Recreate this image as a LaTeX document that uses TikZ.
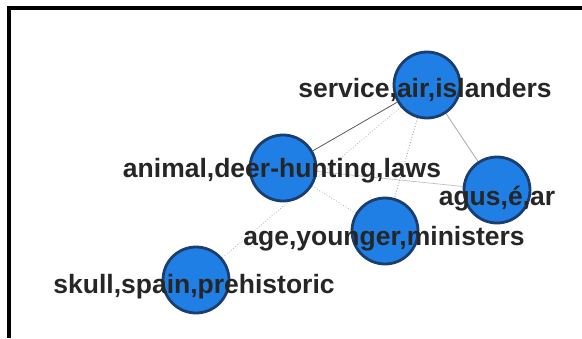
\documentclass[tikz,border=0pt]{standalone}
\usepackage{fontspec}
\setmainfont{Liberation Sans}
\usetikzlibrary{backgrounds}
\definecolor{nodeblue}{RGB}{31,127,228}
\definecolor{nodeedge}{RGB}{26,62,112}

\begin{document}
\begin{tikzpicture}[x=1pt, y=-1pt,
  topic/.style = {circle, minimum size=66pt, inner sep=0pt, line width=2.8pt, draw=nodeedge, fill=nodeblue},
  lbl/.style = {anchor=base, inner sep=0pt, text=black!85, font=\fontsize{26.5}{30}\selectfont\bfseries},
  link/.style = {line width=0.8pt, draw=black!65},
  faint/.style = {line width=0.7pt, draw=black!35},
  dots/.style = {line width=0.8pt, draw=black!45, dotted}]
\useasboundingbox (0,0) rectangle (582,338);
\draw[line width=4pt] (9,338) -- (9,8) -- (582,8);
% nodes
\node[topic] (service) at (427,85) {};
\node[topic] (animal) at (283,168) {};
\node[topic] (agus) at (497,190) {};
\node[topic] (age) at (385,231) {};
\node[topic] (skull) at (196,280) {};
% edges
\begin{scope}[on background layer]
\draw[link] (service) -- (animal);
\draw[faint] (service) -- (agus);
\draw[dots] (service) -- (age);
\draw[dots, draw=black!30] (service) -- (skull);
\draw[faint, draw=black!25] (animal) -- (agus);
\draw[dots, draw=black!30] (animal) -- (age);
\end{scope}
% labels
\node[lbl] (service-lbl) at (425,97.5) {service,air,islanders};
\node[lbl] (animal-lbl) at (282,177) {animal,deer-hunting,laws};
\node[lbl] (agus-lbl) at (497,205) {agus,é,ar};
\node[lbl] (age-lbl) at (384,245) {age,younger,ministers};
\node[lbl] (skull-lbl) at (194,293) {skull,spain,prehistoric};
\end{tikzpicture}
\end{document}
